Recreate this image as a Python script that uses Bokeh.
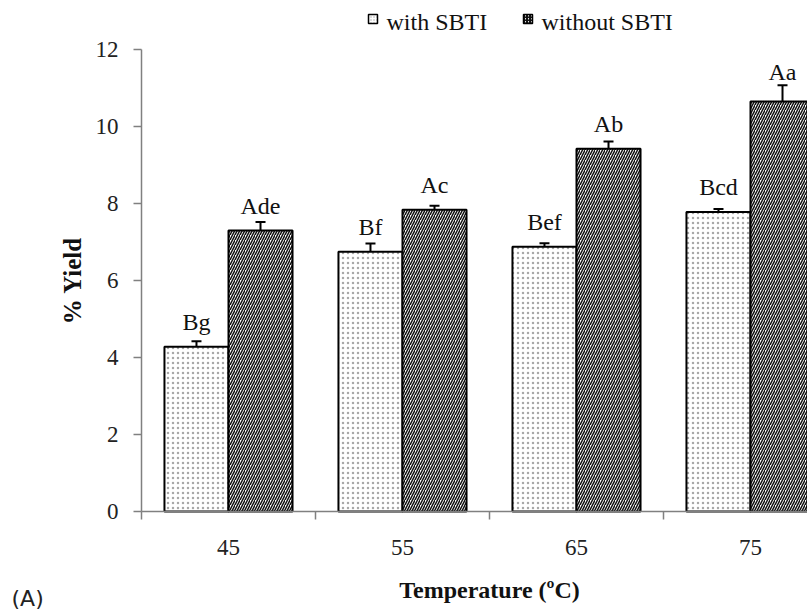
from bokeh.plotting import figure
from bokeh.models import (ColumnDataSource, Range1d, FixedTicker, Whisker, TeeHead,
                          BoxAnnotation, Label, LabelSet)
from bokeh.embed import file_html
from bokeh.resources import INLINE

# ---- data ----
temps = ["45", "55", "65", "75"]
with_sbti = [4.28, 6.75, 6.88, 7.78]
with_err = [0.14, 0.21, 0.09, 0.08]
without_sbti = [7.30, 7.84, 9.42, 10.65]
without_err = [0.22, 0.10, 0.19, 0.42]
with_letters = ["Bg", "Bf", "Bef", "Bcd"]
without_letters = ["Ade", "Ac", "Ab", "Aa"]
series_names = ["with SBTI", "without SBTI"]
y_ticks = [0, 2, 4, 6, 8, 10, 12]
x_title = "Temperature (ºC)"
y_title = "% Yield"
panel_tag = "(A)"

SERIF = "Liberation Serif"
centers = [i + 0.5 for i in range(len(temps))]
dodge = 0.184
bw = 0.368

X0, X1 = -0.8103, 3.8276   # visible span (plot is cropped on the right)
Y0, Y1 = -2.727, 13.273

STYLE_W = dict(fill_color="white", line_color="black",
               hatch_pattern="dot", hatch_color="#a8a8a8", hatch_weight=1)
STYLE_WO = dict(fill_color="white", line_color="black",
                hatch_pattern="right_diagonal_line", hatch_color="#111111",
                hatch_weight=1.5)

def label_y(vals, errs):
    return [max(v + 0.44, v + e + 0.13) for v, e in zip(vals, errs)]

src_w = ColumnDataSource(dict(
    x=[c - dodge for c in centers], top=with_sbti,
    upper=[v + e for v, e in zip(with_sbti, with_err)],
    lower=[v - e for v, e in zip(with_sbti, with_err)],
    ly=label_y(with_sbti, with_err), txt=with_letters))
src_wo = ColumnDataSource(dict(
    x=[c + dodge for c in centers], top=without_sbti,
    upper=[v + e for v, e in zip(without_sbti, without_err)],
    lower=[v - e for v, e in zip(without_sbti, without_err)],
    ly=label_y(without_sbti, without_err), txt=without_letters))

p = figure(width=807, height=616, output_backend="svg", toolbar_location=None,
           x_range=Range1d(X0, X1), y_range=Range1d(Y0, Y1),
           min_border=0)
p.outline_line_color = None
p.xgrid.visible = False
p.ygrid.visible = False

p.vbar(x="x", top="top", width=bw, source=src_w, line_width=2, hatch_scale=5, **STYLE_W)
p.vbar(x="x", top="top", width=bw, source=src_wo, line_width=2, hatch_scale=5, **STYLE_WO)

for s in (src_w, src_wo):
    w = Whisker(base="x", upper="upper", lower="lower", source=s,
                line_color="black", line_width=2,
                upper_head=TeeHead(size=10, line_width=2, line_color="black"),
                lower_head=TeeHead(size=10, line_width=2, line_color="black"))
    p.add_layout(w)
    ls = LabelSet(x="x", y="ly", text="txt", source=s, text_align="center",
                  text_baseline="alphabetic", text_font=SERIF,
                  text_font_size="24px", text_color="#111111")
    p.add_layout(ls)

# axes (fixed inside the frame so the whole canvas is the plotting area)
ax = p.xaxis[0]
ax.fixed_location = 0
ax.bounds = (0, X1)
ax.ticker = FixedTicker(ticks=centers, minor_ticks=list(range(len(temps) + 1)))
ax.major_label_overrides = {c: t for c, t in zip(centers, temps)}
ax.major_tick_out = 0
ax.major_tick_in = 0
ax.minor_tick_out = 8
ax.minor_tick_in = 0
ax.major_label_standoff = 20

ay = p.yaxis[0]
ay.fixed_location = 0
ay.bounds = (0, 12)
ay.ticker = FixedTicker(ticks=y_ticks)
ay.major_tick_out = 8
ay.major_tick_in = 0
ay.minor_tick_out = 0
ay.minor_tick_in = 0
ay.major_label_standoff = 15
ay.axis_label = y_title
ay.axis_label_standoff = 7

for a in (ax, ay):
    a.axis_line_color = "#808080"
    a.axis_line_width = 1.5
    a.major_tick_line_color = "#808080"
    a.major_tick_line_width = 1.5
    a.minor_tick_line_color = "#808080"
    a.minor_tick_line_width = 1.5
    a.major_label_text_font = SERIF
    a.major_label_text_font_size = "23px"
    a.major_label_text_color = "#222222"
    a.axis_label_text_font = SERIF
    a.axis_label_text_font_style = "bold"
    a.axis_label_text_font_size = "25px"
    a.axis_label_text_color = "#111111"

# x-axis title, centred on the full (cropped) group span
p.add_layout(Label(x=len(temps) / 2, y=27, x_units="data", y_units="screen",
                   text=x_title, text_align="center", text_baseline="alphabetic",
                   text_font=SERIF, text_font_style="bold", text_font_size="24px",
                   text_color="#111111"))

# panel tag
p.add_layout(Label(x=11, y=6, x_units="screen", y_units="screen", text=panel_tag,
                   text_font="DejaVu Sans", text_font_size="22px",
                   text_baseline="bottom", text_color="#222222"))

# legend (swatch + label) across the top
for (sx, tx), name, style in zip([(368, 386), (523, 541)], series_names,
                                  [STYLE_W, STYLE_WO]):
    p.add_layout(BoxAnnotation(left=sx, right=sx + 9, bottom=593, top=602,
                               left_units="screen", right_units="screen",
                               bottom_units="screen", top_units="screen",
                               line_width=1.5, fill_alpha=1, line_alpha=1,
                               hatch_scale=3, **style))
    p.add_layout(Label(x=tx, y=595, x_units="screen", y_units="screen", text=name,
                       text_font=SERIF, text_font_size="24px",
                       text_baseline="alphabetic", text_color="#111111"))

open("out.html", "w").write(file_html(p, INLINE))
